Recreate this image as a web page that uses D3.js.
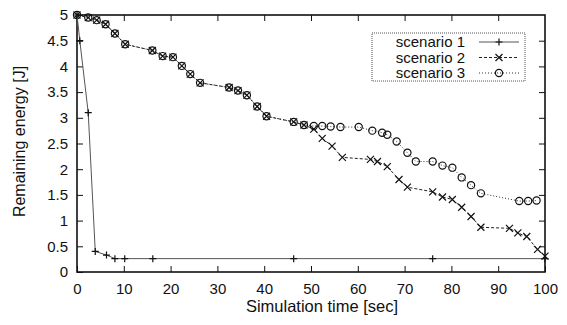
<!DOCTYPE html>
<html>
<head>
<meta charset="utf-8">
<script src="https://cdn.jsdelivr.net/npm/d3@7"></script>
<style>
  body { margin: 0; background: #fff; }
  text { font-family: "Liberation Sans", Arial, sans-serif; fill: #111; }
</style>
</head>
<body>
<div id="chart"></div>
<script>
// Data
const s1Time   = [0, 0.6, 2.4, 3.9, 6.3, 8.1, 10.2, 16.2, 46.3, 76, 100];
const s1Energy = [5, 4.5, 3.1, 0.4, 0.33, 0.26, 0.26, 0.26, 0.26, 0.26, 0.26];

const s2Time   = [0, 2.4, 4.2, 6.1, 8.1, 10.3, 16.1, 18.3, 20.5, 22.4, 24.2, 26.3, 32.5, 34.4, 36.3, 38.5, 40.5, 46.3, 48.5,
                  50.6, 52.4, 54.5, 56.7, 62.7, 64.2, 66.3, 68.8, 70.6, 76, 78.1, 80.2, 82.2, 84.2, 86.3, 92.4, 94.2, 96.1, 98.4, 100];
const s2Energy = [5, 4.95, 4.9, 4.82, 4.64, 4.43, 4.31, 4.2, 4.18, 4.01, 3.85, 3.68, 3.59, 3.53, 3.44, 3.22, 3.03, 2.92, 2.86,
                  2.78, 2.6, 2.45, 2.23, 2.19, 2.15, 2.05, 1.8, 1.65, 1.56, 1.46, 1.41, 1.26, 1.08, 0.87, 0.85, 0.76, 0.69, 0.44, 0.31];

const s3Time   = [0, 2.4, 4.2, 6.1, 8.1, 10.3, 16.1, 18.3, 20.5, 22.4, 24.2, 26.3, 32.5, 34.4, 36.3, 38.5, 40.5, 46.3, 48.5,
                  50.6, 52.4, 54.2, 56.3, 60.2, 63.1, 65.2, 66.3, 68.3, 70.6, 72.4, 76, 78.1, 80.2, 82.2, 84.2, 86.3, 94.5, 96.4, 98.2];
const s3Energy = [5, 4.95, 4.9, 4.82, 4.64, 4.43, 4.31, 4.2, 4.18, 4.01, 3.85, 3.68, 3.59, 3.53, 3.44, 3.22, 3.03, 2.92, 2.86,
                  2.84, 2.84, 2.83, 2.82, 2.82, 2.75, 2.71, 2.67, 2.54, 2.32, 2.15, 2.15, 2.07, 2.03, 1.84, 1.69, 1.53, 1.38, 1.38, 1.39];

const seriesNames = ["scenario 1", "scenario 2", "scenario 3"];
const xTicks = [0, 10, 20, 30, 40, 50, 60, 70, 80, 90, 100];
const yTicks = [0, 0.5, 1, 1.5, 2, 2.5, 3, 3.5, 4, 4.5, 5];

// Layout
const W = 567, H = 325;
const margin = {top: 15, right: 22, bottom: 53, left: 77};
const width = W - margin.left - margin.right,
      height = H - margin.top - margin.bottom;

const x = d3.scaleLinear().domain([0, 100]).range([0, width]);
const y = d3.scaleLinear().domain([0, 5]).range([height, 0]);

const svg = d3.select("#chart").append("svg")
  .attr("width", W).attr("height", H);

const g = svg.append("g")
  .attr("transform", `translate(${margin.left},${margin.top})`);

// Axes (gnuplot style: inward ticks mirrored on all sides)
const tickLen = 6;
function styleAxis(sel) {
  sel.select(".domain").remove();
  sel.selectAll(".tick line").attr("stroke", "#111").attr("stroke-width", 1);
  sel.selectAll(".tick text").style("font-size", "15px");
}
g.append("g").attr("transform", `translate(0,${height})`)
  .call(d3.axisBottom(x).tickValues(xTicks).tickSizeInner(-tickLen).tickPadding(11))
  .call(styleAxis);
g.append("g")
  .call(d3.axisTop(x).tickValues(xTicks.slice(1, -1)).tickSizeInner(-tickLen).tickFormat(""))
  .call(styleAxis);
g.append("g")
  .call(d3.axisLeft(y).tickValues(yTicks).tickSizeInner(-tickLen).tickPadding(9).tickFormat(d3.format("")))
  .call(styleAxis);
g.append("g").attr("transform", `translate(${width},0)`)
  .call(d3.axisRight(y).tickValues(yTicks.slice(1, -1)).tickSizeInner(-tickLen).tickFormat(""))
  .call(styleAxis);

g.append("rect")
  .attr("width", width).attr("height", height)
  .attr("fill", "none").attr("stroke", "#111").attr("stroke-width", 1.6);

// Axis labels
svg.append("text")
  .attr("x", 322).attr("y", 312)
  .attr("text-anchor", "middle").style("font-size", "16.5px")
  .text("Simulation time [sec]");
svg.append("text")
  .attr("transform", `translate(25,${margin.top + height / 2 - 2}) rotate(-90)`)
  .attr("text-anchor", "middle").style("font-size", "16px")
  .text("Remaining energy [J]");

// Series
const series = [
  {name: seriesNames[0], pts: d3.zip(s1Time, s1Energy), dash: null, color: "#555", marker: "plus"},
  {name: seriesNames[1], pts: d3.zip(s2Time, s2Energy), dash: "3,2", color: "#222", marker: "cross"},
  {name: seriesNames[2], pts: d3.zip(s3Time, s3Energy), dash: "1,2", color: "#333", marker: "circle"}
];

const line = d3.line().x(d => x(d[0])).y(d => y(d[1]));

function drawMarker(sel, type, color) {
  const s = 3.5;
  if (type === "plus") {
    sel.append("path").attr("d", `M${-s},0H${s}M0,${-s}V${s}`);
  } else if (type === "cross") {
    sel.append("path").attr("d", `M${-s},${-s}L${s},${s}M${-s},${s}L${s},${-s}`);
  } else {
    sel.append("circle").attr("r", 3.6).attr("fill", "none");
  }
  sel.selectAll("path, circle").attr("stroke", color).attr("stroke-width", 1.2).attr("fill", "none");
}

series.slice().reverse().forEach(s => {
  g.append("path")
    .datum(s.pts)
    .attr("d", line)
    .attr("fill", "none")
    .attr("stroke", s.color)
    .attr("stroke-width", 1)
    .attr("stroke-dasharray", s.dash);
  g.selectAll(null)
    .data(s.pts)
    .enter().append("g")
    .attr("transform", d => `translate(${x(d[0])},${y(d[1])})`)
    .each(function() { drawMarker(d3.select(this), s.marker, "#111"); });
});

// Legend
const legend = svg.append("g").attr("transform", "translate(372,33)");
legend.append("rect")
  .attr("width", 153).attr("height", 48)
  .attr("fill", "#fff").attr("stroke", "#555").attr("stroke-width", 1)
  .attr("stroke-dasharray", "1,1");
series.forEach((s, i) => {
  const row = legend.append("g").attr("transform", `translate(0,${9 + i * 15.5})`);
  row.append("text")
    .attr("x", 93).attr("y", 5)
    .attr("text-anchor", "end").style("font-size", "15px")
    .text(s.name);
  row.append("line")
    .attr("x1", 107).attr("x2", 147)
    .attr("stroke", s.color).attr("stroke-width", 1)
    .attr("stroke-dasharray", s.dash);
  const m = row.append("g").attr("transform", "translate(127,0)");
  drawMarker(m, s.marker, "#111");
});
</script>
</body>
</html>
